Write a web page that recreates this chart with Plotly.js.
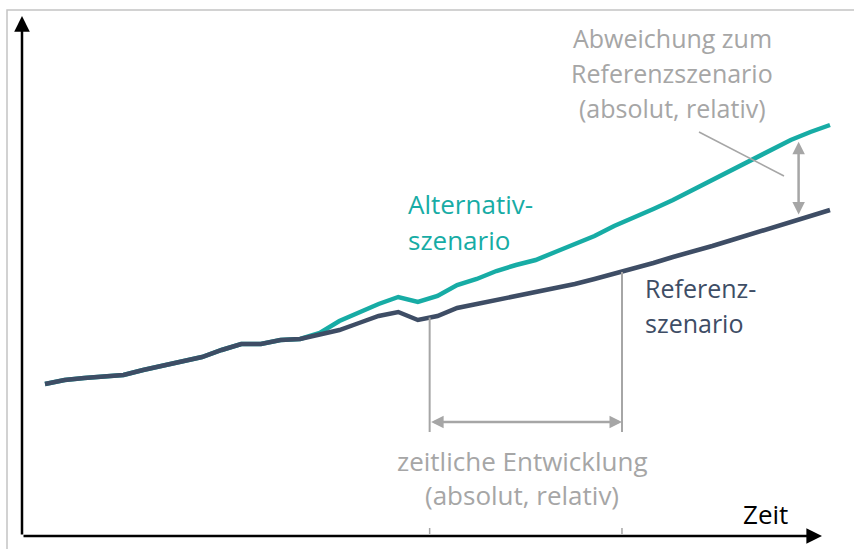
<!DOCTYPE html>
<html>
<head>
<meta charset="utf-8">
<script src="https://cdn.plot.ly/plotly-3.0.1.min.js"></script>
<style>
  html, body { margin: 0; padding: 0; background: #ffffff; }
  #chart { width: 854px; height: 549px; }
</style>
</head>
<body>
<div id="chart"></div>
<script>
// Time index (schematic "Zeit")
var zeit = [];
for (var k = 0; k <= 40; k++) zeit.push(k);

// Referenzszenario values (schematic units)
var referenz = [152, 156, 158, 159, 161, 166, 170, 174, 179, 186,
                192, 192, 196, 197, 201, 206, 213, 220, 224, 216,
                220, 228, 232, 236, 239, 243, 247, 252, 257, 262,
                267, 273, 279, 284, 290, 296, 302, 308, 314, 319, 326];

// Alternativszenario values (identical until divergence)
var alternativ = [152, 156, 158, 159, 161, 166, 170, 174, 179, 186,
                  192, 192, 196, 197, 203, 215, 224, 232, 239, 234,
                  240, 251, 257, 265, 271, 276, 284, 292, 300, 310,
                  318, 327, 336, 346, 356, 367, 377, 387, 396, 404, 411];

// Marker positions for the annotations (time index / value)
var tStart = 19.6, tEnd = 29.4, tDiff = 38.4;

var W = 854, H = 549;
var X0 = 45, DX = 19.625;          // layout: index -> pixel
var Y0 = 536;                      // layout: value 0 -> pixel
function px(x) { return x / W; }
function py(y) { return 1 - y / H; }
function refAt(t) {
  var i = Math.floor(t), f = t - i;
  return referenz[i] + (referenz[Math.min(i + 1, 40)] - referenz[i]) * f;
}
function altAt(t) {
  var i = Math.floor(t), f = t - i;
  return alternativ[i] + (alternativ[Math.min(i + 1, 40)] - alternativ[i]) * f;
}

var teal = '#17aca5';
var dark = '#3e4d65';
var grey = '#a6a6a6';
var font = 'Open Sans, Noto Sans, sans-serif';

var traces = [
  { x: zeit, y: alternativ, mode: 'lines', line: { color: teal, width: 4.5 }, hoverinfo: 'skip' },
  { x: zeit, y: referenz, mode: 'lines', line: { color: dark, width: 4.5 }, hoverinfo: 'skip' }
];

var yBottomArrow = Y0 - 422;   // value at the horizontal arrow level
var yLow = Y0 - 432;

var shapes = [
  // outer light frame
  { type: 'path', xref: 'paper', yref: 'paper',
    path: 'M ' + px(7) + ' ' + py(549) + ' L ' + px(7) + ' ' + py(10) + ' L ' + px(854) + ' ' + py(10),
    line: { color: '#c4c4c4', width: 1.5 } },
  // vertical guide lines
  { type: 'line', xref: 'x', yref: 'y', x0: tStart, x1: tStart, y0: refAt(tStart), y1: yLow,
    line: { color: grey, width: 2 } },
  { type: 'line', xref: 'x', yref: 'y', x0: tEnd, x1: tEnd, y0: refAt(tEnd), y1: yLow,
    line: { color: grey, width: 2 } },
  // small ticks on time axis
  { type: 'line', xref: 'x', yref: 'y', x0: tStart, x1: tStart, y0: Y0 - 528, y1: Y0 - 534,
    line: { color: grey, width: 1.5 } },
  { type: 'line', xref: 'x', yref: 'y', x0: tEnd, x1: tEnd, y0: Y0 - 528, y1: Y0 - 534,
    line: { color: grey, width: 1.5 } },
  // leader line to the deviation arrow
  { type: 'line', xref: 'paper', yref: 'paper', x0: px(699), y0: py(132), x1: px(784), y1: py(176),
    line: { color: grey, width: 1.5 } }
];

function txt(x, y, s, color, anchor, size) {
  return { xref: 'paper', yref: 'paper', x: px(x), y: py(y), text: s, showarrow: false,
           xanchor: anchor, yanchor: 'middle', borderpad: 0, borderwidth: 0,
           font: { family: font, size: size || 25, color: color } };
}

var annotations = [
  // y axis arrow
  { xref: 'paper', yref: 'paper', x: px(22), y: py(16), ax: 0, ay: 520, axref: 'pixel', ayref: 'pixel',
    showarrow: true, arrowhead: 2, arrowsize: 1.25, arrowwidth: 2.5, arrowcolor: '#000000', text: '' },
  // x axis arrow
  { xref: 'paper', yref: 'paper', x: px(822), y: py(536), ax: -800, ay: 0,
    showarrow: true, arrowhead: 2, arrowsize: 1.25, arrowwidth: 2.5, arrowcolor: '#000000', text: '' },
  // horizontal double arrow (zeitliche Entwicklung)
  { xref: 'x', yref: 'y', axref: 'x', ayref: 'y', x: tEnd, y: yBottomArrow, ax: tStart, ay: yBottomArrow,
    showarrow: true, arrowside: 'end+start', arrowhead: 2, startarrowhead: 2,
    arrowsize: 1, startarrowsize: 1, arrowwidth: 2.5, arrowcolor: grey, text: '' },
  // vertical double arrow (Abweichung)
  { xref: 'x', yref: 'y', axref: 'x', ayref: 'y', x: tDiff, y: altAt(tDiff) - 5, ax: tDiff, ay: refAt(tDiff) + 4,
    showarrow: true, arrowside: 'end+start', arrowhead: 2, startarrowhead: 2,
    arrowsize: 1, startarrowsize: 1, arrowwidth: 2.5, arrowcolor: grey, text: '' },

  txt(672, 38, 'Abweichung zum', grey, 'center', 25),
  txt(672, 73, 'Referenzszenario', grey, 'center', 25),
  txt(672, 108, '(absolut, relativ)', grey, 'center', 25),
  txt(408, 204, 'Alternativ-', teal, 'left', 26),
  txt(408, 240, 'szenario', teal, 'left', 26),
  txt(645, 288, 'Referenz-', dark, 'left', 25),
  txt(645, 323, 'szenario', dark, 'left', 25),
  txt(522, 461, 'zeitliche Entwicklung', grey, 'center', 26),
  txt(522, 495, '(absolut, relativ)', grey, 'center', 26),
  txt(765, 514, 'Zeit', '#000000', 'center', 26)
];

var layout = {
  width: W, height: H,
  margin: { l: 0, r: 0, t: 0, b: 0 },
  paper_bgcolor: '#ffffff', plot_bgcolor: '#ffffff',
  showlegend: false,
  xaxis: { range: [-X0 / DX, (W - X0) / DX], visible: false, fixedrange: true },
  yaxis: { range: [Y0 - H, Y0], visible: false, fixedrange: true },
  shapes: shapes,
  annotations: annotations
};

Plotly.newPlot('chart', traces, layout, { displayModeBar: false, staticPlot: true });
</script>
</body>
</html>
